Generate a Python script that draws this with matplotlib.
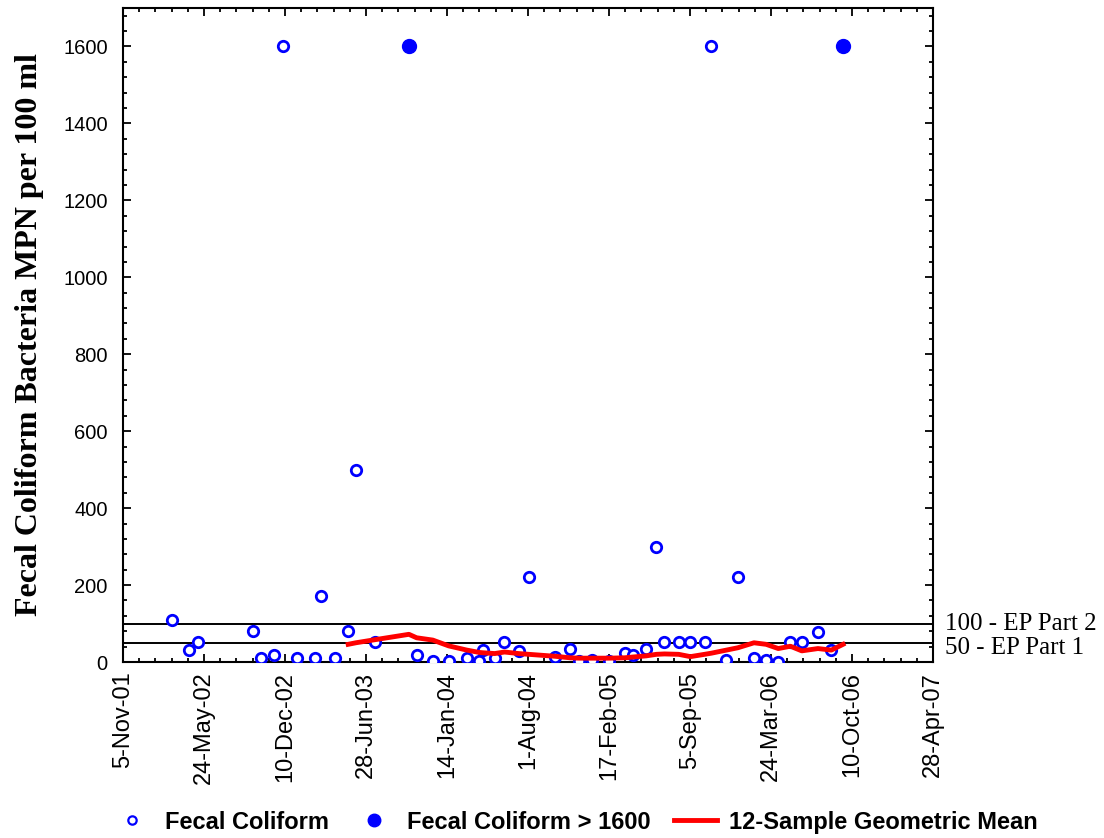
import numpy as np
import pandas as pd
import matplotlib
matplotlib.use("Agg")
import matplotlib.pyplot as plt
import matplotlib.dates as mdates
from matplotlib.ticker import MultipleLocator, FuncFormatter
from matplotlib.lines import Line2D

# sample dates and fecal coliform values (MPN/100 ml)
sample_dates = [
    "2002-03-07", "2002-04-16", "2002-05-10", "2002-09-21", "2002-10-12",
    "2002-11-13", "2002-12-05", "2003-01-08", "2003-02-21", "2003-03-08",
    "2003-04-12", "2003-05-15", "2003-06-03", "2003-07-20", "2003-10-12",
    "2003-10-31", "2003-12-10", "2004-01-18", "2004-03-03", "2004-04-02",
    "2004-04-12", "2004-05-11", "2004-06-04", "2004-07-09", "2004-08-03",
    "2004-10-06", "2004-11-13", "2004-12-05", "2005-01-06", "2005-02-17",
    "2005-03-28", "2005-04-17", "2005-05-20", "2005-06-14", "2005-07-04",
    "2005-08-08", "2005-09-06", "2005-10-11", "2005-10-28", "2005-12-04",
    "2006-01-01", "2006-02-10", "2006-03-12", "2006-04-11", "2006-05-11",
    "2006-06-08", "2006-07-18", "2006-08-20", "2006-09-18",
]
fecal = [
    110, 32, 52, 80, 11,
    17, 1600, 11, 11, 172,
    11, 80, 500, 52, 1600,
    17, 2, 2, 11, 2,
    32, 11, 53, 28, 220,
    13, 33, 2, 5, 2,
    23, 17, 33, 300, 52,
    52, 52, 52, 1600, 4,
    220, 11, 4, 1, 52,
    52, 78, 31, 1600,
]
# samples flagged as > 1600 (drawn filled)
over_limit = [False] * 49
over_limit[14] = True
over_limit[48] = True

# 12-sample geometric mean, starting at the 12th sample
geomean = [
    46, 50, 58, 72, 63, 57, 42, 31, 25, 24,
    22, 26, 22, 20, 15, 11, 10, 10, 10, 11,
    13, 16, 20, 21, 20, 14, 20, 23, 31, 37,
    50, 46, 35, 41, 29, 35, 31, 46,
]

standards = [100, 50]
standard_labels = ["100 - EP Part 2", "50 - EP Part 1"]

dates = pd.to_datetime(sample_dates)
fecal = np.array(fecal, dtype=float)
over = np.array(over_limit)

fig = plt.figure(figsize=(11.04, 8.38), dpi=100)
ax = fig.add_axes([0.1114, 0.21, 0.7337, 0.7805])

blue = "#0000FF"
ax.plot(dates[~over], fecal[~over], "o", ms=7.5, mfc="white", mec=blue,
        mew=2.0, zorder=3)
ax.plot(dates[over], fecal[over], "o", ms=10, mfc=blue, mec=blue, zorder=3)
ax.plot(dates[11:], geomean, "-", color="#FF0000", lw=3.5, zorder=4)

for s in standards:
    ax.axhline(s, color="black", lw=1.4, zorder=2)

x0 = pd.Timestamp("2001-11-05")
ax.set_xlim(x0, x0 + pd.Timedelta(days=2000))
ax.set_ylim(0, 1700)

ax.set_xticks([x0 + pd.Timedelta(days=200 * i) for i in range(11)])
ax.set_xticks([x0 + pd.Timedelta(days=40 * i) for i in range(51)], minor=True)


def fmt_date(v, pos=None):
    d = mdates.num2date(v)
    return f"{d.day}-{d.strftime('%b')}-{d.strftime('%y')}"


ax.xaxis.set_major_formatter(FuncFormatter(fmt_date))
ax.yaxis.set_major_locator(MultipleLocator(200))
ax.yaxis.set_minor_locator(MultipleLocator(40))

ax.tick_params(which="both", direction="in", top=True, right=True,
               width=1.3)
ax.tick_params(which="major", length=6)
ax.tick_params(which="minor", length=3)
ax.tick_params(axis="x", which="major", pad=7)
ax.tick_params(axis="y", which="major", pad=11)
for lab in ax.get_xticklabels():
    lab.set_rotation(90)
    lab.set_fontsize(17)
    lab.set_family("Liberation Sans")
for lab in ax.get_yticklabels():
    lab.set_fontsize(14.5)
    lab.set_family("Liberation Sans")
for sp in ax.spines.values():
    sp.set_linewidth(1.5)

ax.set_ylabel("Fecal Coliform Bacteria MPN per 100 ml", fontsize=23,
              fontweight="bold", family="Liberation Serif", labelpad=14)

tr = ax.get_yaxis_transform()
ax.text(1.015, 100, standard_labels[0], transform=tr, va="center",
        ha="left", fontsize=18, family="Liberation Serif")
ax.text(1.015, 36, standard_labels[1], transform=tr, va="center",
        ha="left", fontsize=18, family="Liberation Serif")

handles = [
    Line2D([], [], ls="none", marker="o", ms=6, mfc="white", mec=blue, mew=1.6),
    Line2D([], [], ls="none", marker="o", ms=9, mfc=blue, mec=blue),
    Line2D([], [], color="#FF0000", lw=3.5),
]
fig.legend(handles, ["Fecal Coliform", "Fecal Coliform > 1600",
                     "12-Sample Geometric Mean"],
           loc="lower center", bbox_to_anchor=(0.52, -0.02), ncol=3,
           frameon=False, handlelength=1.8, handletextpad=0.5,
           columnspacing=1.0,
           prop={"family": "Liberation Sans", "weight": "bold", "size": 17})

fig.savefig("out.png", dpi=100)
